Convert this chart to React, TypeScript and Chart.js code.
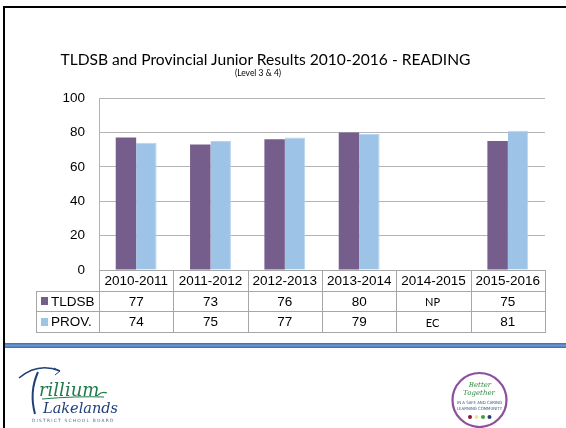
import React, { useEffect, useRef } from "react";
import { Chart, registerables } from "chart.js";

Chart.register(...registerables);

// ---- data ----
const categories = ["2010-2011", "2011-2012", "2012-2013", "2013-2014", "2014-2015", "2015-2016"];
const seriesNames = ["TLDSB", "PROV."];
const tldsbValues: (number | null)[] = [77, 73, 76, 80, null, 75];
const provValues: (number | null)[] = [74, 75, 77, 79, null, 81];
const missingNotes = ["NP", "EC"]; // shown in the table where a series has no value
const yTicks = [0, 20, 40, 60, 80, 100];

// ---- styles ----
const seriesColors = ["#765E8C", "#9DC3E7"];
const gridColor = "#b4b4b4";
const tableLine = "#a6a6a6";
const tableFont = "13.5px 'Liberation Sans', Arial, sans-serif";
const noteFont = "11px Lato, 'Open Sans', sans-serif";

const seriesValues = [tldsbValues, provValues];

const tablePlugin = {
  id: "dataTable",
  afterDraw(chart: any) {
    const ctx: CanvasRenderingContext2D = chart.ctx;
    const xs = chart.scales.x;
    const area = chart.chartArea;
    const n = categories.length;
    const colW = (area.right - area.left) / n;
    const rowH = 20.6;
    const legendLeft = 36;
    const top = area.bottom;
    const crisp = (v: number) => Math.round(v) + 0.5;

    ctx.save();
    ctx.strokeStyle = tableLine;
    ctx.lineWidth = 1;
    const hLine = (y: number, x0: number, x1: number) => {
      ctx.beginPath();
      ctx.moveTo(crisp(x0) - 0.5, crisp(y));
      ctx.lineTo(crisp(x1) + 0.5, crisp(y));
      ctx.stroke();
    };
    const vLine = (x: number, y0: number, y1: number) => {
      ctx.beginPath();
      ctx.moveTo(crisp(x), crisp(y0) - 0.5);
      ctx.lineTo(crisp(x), crisp(y1) + 0.5);
      ctx.stroke();
    };
    const bottom = top + rowH * (1 + seriesNames.length);
    hLine(top, area.left, area.right);
    for (let r = 1; r <= seriesNames.length; r++) {
      hLine(top + rowH * r, legendLeft, area.right);
    }
    hLine(bottom, legendLeft, area.right);
    vLine(legendLeft, top + rowH, bottom);
    for (let i = 0; i < n; i++) {
      const cx = xs.getPixelForValue(i);
      vLine(cx - colW / 2, top, bottom);
    }
    vLine(area.right, top, bottom);

    ctx.fillStyle = "#000";
    ctx.textBaseline = "middle";
    ctx.textAlign = "center";
    ctx.font = tableFont;
    for (let i = 0; i < n; i++) {
      const cx = xs.getPixelForValue(i);
      ctx.fillText(categories[i], cx, top + rowH / 2 + 1);
    }
    for (let s = 0; s < seriesNames.length; s++) {
      const cy = top + rowH * (s + 1.5);
      ctx.fillStyle = seriesColors[s];
      ctx.fillRect(41, Math.round(cy - 4), 7, 8);
      ctx.fillStyle = "#000";
      ctx.textAlign = "left";
      ctx.font = tableFont;
      ctx.fillText(seriesNames[s], 51, cy + 1);
      ctx.textAlign = "center";
      for (let i = 0; i < n; i++) {
        const v = seriesValues[s][i];
        const cx = xs.getPixelForValue(i);
        if (v === null) {
          ctx.font = noteFont;
          ctx.fillText(missingNotes[s], cx - 1, cy + 2);
        } else {
          ctx.font = tableFont;
          ctx.fillText(String(v), cx, cy + 1);
        }
      }
    }
    ctx.restore();
  },
};

export default function App() {
  const ref = useRef<HTMLCanvasElement>(null);

  useEffect(() => {
    if (!ref.current) return;
    const chart = new Chart(ref.current, {
      type: "bar",
      data: {
        labels: categories,
        datasets: seriesNames.map((name, s) => ({
          label: name,
          data: seriesValues[s],
          backgroundColor: seriesColors[s],
          borderColor: s === 1 ? "#b7d3ef" : seriesColors[s],
          borderWidth: s === 1 ? { right: 1, top: 1, left: 0, bottom: 0 } : 0,
          categoryPercentage: 0.55,
          barPercentage: 1,
        })),
      },
      options: {
        responsive: false,
        animation: false,
        devicePixelRatio: 1,
        layout: { padding: { top: 98, right: 21, bottom: 70, left: 0 } },
        plugins: {
          legend: { display: false },
          title: { display: false },
          tooltip: { enabled: false },
        },
        scales: {
          x: {
            grid: { display: false, drawTicks: false },
            border: { display: false },
            ticks: { display: false },
            afterFit: (scale: any) => {
              scale.height = 0;
            },
          },
          y: {
            min: 0,
            max: 100,
            afterBuildTicks: (scale: any) => {
              scale.ticks = yTicks.map((v) => ({ value: v }));
            },
            grid: { color: gridColor, drawTicks: false, lineWidth: 1 },
            border: { display: true, color: gridColor },
            ticks: {
              padding: 14,
              color: "#000",
              font: { family: "'Liberation Sans', Arial, sans-serif", size: 13.5 },
            },
            afterFit: (scale: any) => {
              scale.width = 99;
            },
          },
        },
      },
      plugins: [tablePlugin],
    });
    return () => chart.destroy();
  }, []);

  return (
    <div
      style={{
        position: "absolute",
        left: 0,
        top: 0,
        width: 566,
        height: 428,
        background: "#fff",
        overflow: "hidden",
      }}
    >
      <canvas
        ref={ref}
        width={566}
        height={340}
        style={{ position: "absolute", left: 0, top: 0, width: 566, height: 340 }}
      />
      <div
        style={{
          position: "absolute",
          left: 0,
          width: 531,
          top: 50,
          textAlign: "center",
          fontFamily: "Lato, 'Open Sans', sans-serif",
          fontSize: 15.6,
          lineHeight: "18px",
          whiteSpace: "nowrap",
          color: "#000",
        }}
      >
        TLDSB and Provincial Junior Results 2010-2016 - READING
      </div>
      <div
        style={{
          position: "absolute",
          left: 0,
          width: 516,
          top: 68,
          textAlign: "center",
          fontFamily: "Lato, 'Open Sans', sans-serif",
          fontSize: 8.5,
          lineHeight: "10px",
          whiteSpace: "nowrap",
          color: "#000",
        }}
      >
        (Level 3 &amp; 4)
      </div>
      <svg
        width={566}
        height={428}
        style={{ position: "absolute", left: 0, top: 0, pointerEvents: "none" }}
      >
        <defs>
          <linearGradient id="band" x1="0" y1="0" x2="0" y2="1">
            <stop offset="0" stopColor="#3b6ea8" />
            <stop offset="0.5" stopColor="#6a98d0" />
            <stop offset="1" stopColor="#3b6ea8" />
          </linearGradient>
        </defs>
        <rect x={3} y={6} width={563} height={2} fill="#000" />
        <rect x={3} y={6} width={2} height={422} fill="#000" />
        <rect x={5} y={343} width={561} height={5} fill="url(#band)" />
        {/* Trillium Lakelands logo */}
        <path d="M19 378 Q38 362 60 371" stroke="#1f3f78" strokeWidth={1.6} fill="none" />
        <path d="M54 368 L60 371 L55 375" stroke="#1f3f78" strokeWidth={1} fill="none" />
        <path d="M38 372 Q29 392 35 414" stroke="#1f3f78" strokeWidth={2} fill="none" />
        <text
          x={39}
          y={396}
          fontFamily="'DejaVu Serif', 'Liberation Serif', serif"
          fontStyle="italic"
          fontSize={18}
          fill="#1f7a4c"
        >
          rillium
        </text>
        <path d="M42 399 Q76 396 104 397" stroke="#1f7a4c" strokeWidth={1} fill="none" />
        <path d="M98 395 Q102 391 107 393" stroke="#1f7a4c" strokeWidth={1.2} fill="none" />
        <text
          x={43}
          y={413}
          fontFamily="'DejaVu Serif', 'Liberation Serif', serif"
          fontStyle="italic"
          fontSize={14.5}
          fill="#1f3f78"
        >
          Lakelands
        </text>
        <text
          x={32}
          y={422}
          fontFamily="'DejaVu Sans', sans-serif"
          fontSize={4.4}
          letterSpacing={1.2}
          fill="#4a6d8e"
        >
          DISTRICT SCHOOL BOARD
        </text>
        {/* Better Together logo */}
        <circle cx={479.5} cy={400} r={27} fill="#fff" stroke="#8e4fa0" strokeWidth={2.2} />
        <text
          x={480}
          y={387}
          textAnchor="middle"
          fontFamily="'DejaVu Serif', serif"
          fontStyle="italic"
          fontSize={7}
          fill="#2e8a3e"
        >
          Better
        </text>
        <text
          x={479}
          y={395}
          textAnchor="middle"
          fontFamily="'DejaVu Serif', serif"
          fontStyle="italic"
          fontSize={7}
          fill="#2e8a3e"
        >
          Together
        </text>
        <text
          x={479.5}
          y={404}
          textAnchor="middle"
          fontFamily="'DejaVu Sans Condensed', 'DejaVu Sans', sans-serif"
          fontSize={4.3}
          fill="#3b5b8c"
        >
          IN A SAFE AND CARING
        </text>
        <text
          x={479.5}
          y={409.5}
          textAnchor="middle"
          fontFamily="'DejaVu Sans Condensed', 'DejaVu Sans', sans-serif"
          fontSize={4.3}
          fill="#3b5b8c"
        >
          LEARNING COMMUNITY
        </text>
        <circle cx={470} cy={417} r={2} fill="#8a1838" />
        <circle cx={476.5} cy={417} r={2} fill="#f0e49a" />
        <circle cx={483} cy={417} r={2} fill="#3aa23c" />
        <circle cx={489.5} cy={417} r={2} fill="#2d3a78" />
      </svg>
    </div>
  );
}
